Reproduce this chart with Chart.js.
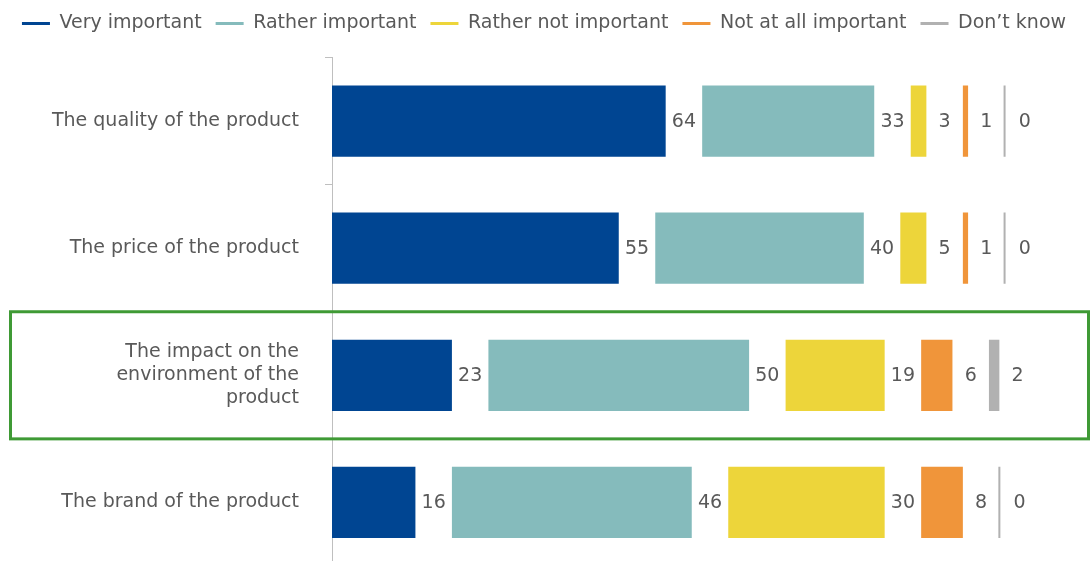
<!DOCTYPE html>
<html>
<head>
<meta charset="utf-8">
<script src="https://cdn.jsdelivr.net/npm/chart.js@4/dist/chart.umd.min.js"></script>
<style>
  html, body { margin: 0; padding: 0; background: #fff; overflow: hidden; }
  #wrap { position: relative; width: 1090px; height: 566px; }
</style>
</head>
<body>
<div id="wrap"><canvas id="chart"></canvas></div>
<script>
// data (%)
const categories = [
    'The quality of the product',
    'The price of the product',
    ['The impact on the', 'environment of the', 'product'],
    'The brand of the product'
];
const seriesNames = ['Very important', 'Rather important', 'Rather not important', 'Not at all important', 'Don\u2019t know'];
const veryImportant = [64, 55, 23, 16];
const ratherImportant = [33, 40, 50, 46];
const ratherNotImportant = [3, 5, 19, 30];
const notAtAllImportant = [1, 1, 6, 8];
const dontKnow = [0, 0, 2, 0];
const seriesColors = ['#004592', '#85BBBC', '#EDD53A', '#F0953A', '#B1B1B1'];

const GAP = 7;            // empty space after each segment, holds the value label
const HIGHLIGHT = 2;      // index of the category with the green frame
const textColor = '#595959';
const font = { family: '"DejaVu Sans", Verdana, sans-serif', size: 19 };

const seriesValues = [veryImportant, ratherImportant, ratherNotImportant, notAtAllImportant, dontKnow];

// real segments interleaved with invisible spacers
const datasets = [];
seriesValues.forEach((vals, s) => {
    datasets.push({
        label: seriesNames[s],
        data: vals,
        backgroundColor: seriesColors[s],
        borderWidth: 0,
        minBarLength: s === 4 ? 2 : 0
    });
    datasets.push({
        label: '',
        spacerFor: datasets.length - 1,
        data: vals.map(() => GAP),
        backgroundColor: 'rgba(0,0,0,0)',
        borderWidth: 0
    });
});

// value labels centred in the spacer after each segment
const valueLabels = {
    id: 'valueLabels',
    afterDatasetsDraw(chart) {
        const ctx = chart.ctx;
        ctx.save();
        ctx.font = `${font.size}px ${font.family}`;
        ctx.fillStyle = textColor;
        ctx.textAlign = 'center';
        ctx.textBaseline = 'middle';
        chart.data.datasets.forEach((ds, di) => {
            if (ds.spacerFor === undefined) return;
            const src = chart.data.datasets[ds.spacerFor];
            chart.getDatasetMeta(di).data.forEach((bar, i) => {
                ctx.fillText(String(src.data[i]), (bar.x + bar.base) / 2, bar.y + 1);
            });
        });
        ctx.restore();
    }
};

// green frame round the highlighted category
const highlightBox = {
    id: 'highlightBox',
    afterDraw(chart) {
        const y = chart.scales.y;
        const half = (y.getPixelForValue(1) - y.getPixelForValue(0)) / 2;
        const top = y.getPixelForValue(HIGHLIGHT) - half;
        const ctx = chart.ctx;
        ctx.save();
        ctx.strokeStyle = '#3F9A35';
        ctx.lineWidth = 3;
        ctx.strokeRect(10.5, top, chart.width - 12, 2 * half);
        ctx.restore();
    }
};

// extra room under the legend
const legendSpace = {
    id: 'legendSpace',
    beforeInit(chart) {
        const fit = chart.legend.fit;
        chart.legend.fit = function () {
            fit.bind(chart.legend)();
            this.height += 14.5;
        };
    }
};

new Chart(document.getElementById('chart'), {
    type: 'bar',
    data: { labels: categories, datasets },
    plugins: [legendSpace, valueLabels, highlightBox],
    options: {
        indexAxis: 'y',
        responsive: true,
        maintainAspectRatio: false,
        animation: false,
        layout: { padding: { top: 0, right: 2, left: 0, bottom: 0 } },
        datasets: { bar: { categoryPercentage: 1, barPercentage: 0.56 } },
        scales: {
            x: { stacked: true, min: 0, max: 145, display: false },
            y: {
                stacked: true,
                afterFit(scale) {
                    scale.width = 332;
                    scale.paddingTop = 0;
                    scale.paddingBottom = 0;
                },
                border: { display: true, color: '#BFBFBF', width: 1 },
                grid: { offset: true, drawOnChartArea: false, drawTicks: true, tickLength: 7, color: '#BFBFBF' },
                ticks: { color: textColor, font, padding: 26, crossAlign: 'near' }
            }
        },
        plugins: {
            tooltip: { enabled: false },
            legend: {
                position: 'top',
                align: 'center',
                labels: {
                    color: textColor,
                    font,
                    padding: 14,
                    usePointStyle: true,
                    pointStyleWidth: 28,
                    generateLabels(chart) {
                        return chart.data.datasets
                            .map((ds, i) => ({ ds, i }))
                            .filter(o => o.ds.spacerFor === undefined)
                            .map(o => ({
                                text: o.ds.label,
                                fillStyle: o.ds.backgroundColor,
                                strokeStyle: o.ds.backgroundColor,
                                lineWidth: 3,
                                pointStyle: 'line',
                                fontColor: textColor,
                                hidden: false,
                                datasetIndex: o.i
                            }));
                    }
                }
            }
        }
    }
});
</script>
</body>
</html>
